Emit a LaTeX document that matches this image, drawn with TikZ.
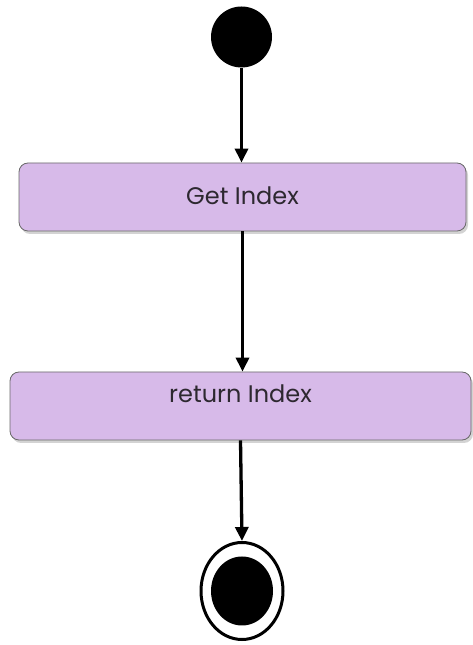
\documentclass[tikz,border=0pt]{standalone}
\usepackage{fontspec}
\setmainfont{Poppins}
\usetikzlibrary{arrows.meta,positioning,shapes.geometric,shadows}
\definecolor{actfill}{RGB}{215,186,233}
\definecolor{actline}{RGB}{105,105,105}
\definecolor{acttext}{RGB}{45,40,48}

\begin{document}
\begin{tikzpicture}[x=1pt,y=1pt,>={Triangle[length=14pt,width=13pt]}]
  \useasboundingbox (0,0) rectangle (472,645);
  \tikzset{
    act/.style={draw=actline,line width=0.8pt,fill=actfill,rounded corners=9pt,
      minimum height=68pt,text height=16pt,text=acttext,font=\fontsize{24}{28}\selectfont,
      drop shadow={shadow xshift=2pt,shadow yshift=-3pt,opacity=0.35}},
    flow/.style={->,line width=3.3pt},
  }
  % 開始
  \node[circle,fill=black,minimum size=61pt,inner sep=0pt] (start) at (241.5,608) {};
  % アクティビティ
  \node[act,minimum width=447pt,text depth=0pt] (get) at (242.5,448) {Get Index};
  \node[act,minimum width=461pt,text depth=22pt] (ret) at (240.5,239) {return Index};
  % 終了
  \node[ellipse,draw,line width=3pt,minimum width=82pt,minimum height=97pt,inner sep=0pt] (stop) at (242,54) {};
  \node[ellipse,fill=black,minimum width=62pt,minimum height=69pt,inner sep=0pt] (stopdot) at (stop.center) {};
  % 遷移
  \draw[flow] (start.south) -- (get.north -| start.south);
  \draw[flow] (get.south) -- (ret.north -| get.south);
  \draw[flow] (ret.south) -- (stop.north);
\end{tikzpicture}
\end{document}
